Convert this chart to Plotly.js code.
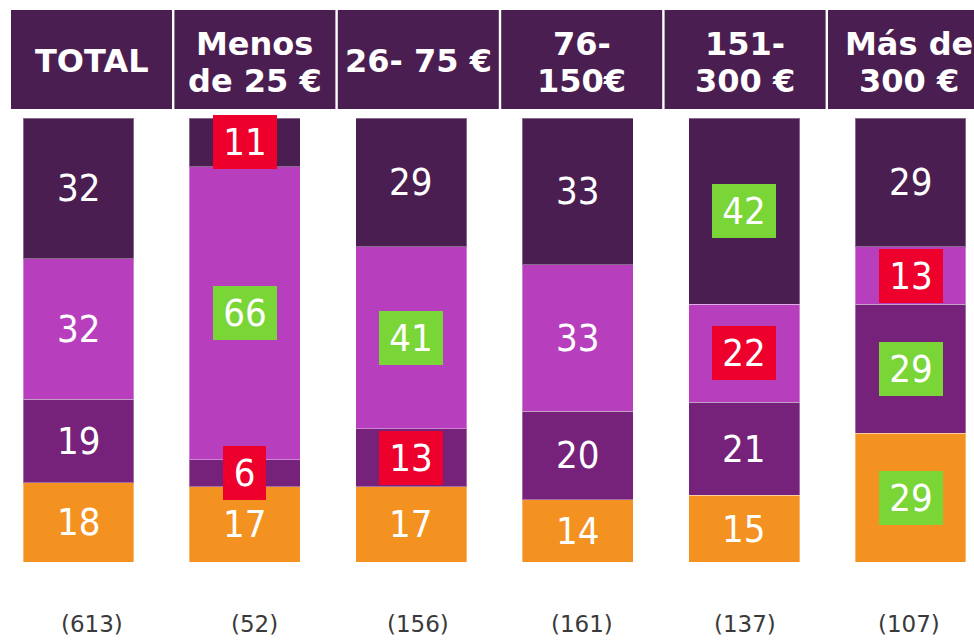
<!DOCTYPE html>
<html>
<head>
<meta charset="utf-8">
<script src="https://cdn.plot.ly/plotly-3.0.1.min.js"></script>
<style>html,body{margin:0;padding:0;background:#fff;}#chart{width:974px;height:640px;}</style>
</head>
<body>
<div id="chart"></div>
<script>
// ---- data ----
const categories = ['TOTAL', 'Menos de 25 €', '26- 75 €', '76-150€', '151-300 €', 'Más de 300 €'];
const headerLabels = ['TOTAL', 'Menos<br>de 25 €', '26- 75 €', '76-<br>150€', '151-<br>300 €', 'Más de<br>300 €'];
const sampleSizes = ['(613)', '(52)', '(156)', '(161)', '(137)', '(107)'];
// stacked from bottom to top
const seriesOrange  = [18, 17, 17, 14, 15, 29];
const seriesPurple  = [19, 6, 13, 20, 21, 29];
const seriesMagenta = [32, 66, 41, 33, 22, 13];
const seriesDark    = [32, 11, 29, 33, 42, 29];
// highlight flags: 'r' = red box, 'g' = green box, '' = none
const hlOrange  = ['', '', '', '', '', 'g'];
const hlPurple  = ['', 'r', 'r', '', '', 'g'];
const hlMagenta = ['', 'g', 'g', '', 'r', 'r'];
const hlDark    = ['', 'r', '', '', 'g', ''];

// ---- styles ----
const W = 974, H = 640;
const colors = ['#F39121', '#76217A', '#B73FBD', '#4B1E51'];
const headerColor = '#4B1E51';
const hlColors = { r: '#EE002C', g: '#7AD537' };
const labelFont = 'DejaVu Sans Condensed, DejaVu Sans, sans-serif';

const series = [seriesOrange, seriesPurple, seriesMagenta, seriesDark];
const flags = [hlOrange, hlPurple, hlMagenta, hlDark];
const xIdx = categories.map((c, i) => i);

const traces = series.map((vals, s) => ({
  type: 'bar',
  x: xIdx,
  y: vals,
  width: 0.667,
  marker: { color: colors[s], line: { color: 'rgba(255,255,255,0.35)', width: 1 } },
  hoverinfo: 'skip'
}));

const totals = xIdx.map(i => series.reduce((a, sr) => a + sr[i], 0));
const annotations = [];
const hStep = 163.4, hW = 161, hX0 = 11, hTop = 10, hBot = 109;

// value labels
xIdx.forEach(i => {
  let cum = 0;
  series.forEach((sr, s) => {
    const v = sr[i];
    const yc = (cum + v / 2) / totals[i] * 100;
    cum += v;
    const f = flags[s][i];
    const txt = String(v);
    const a = {
      x: i, y: yc, xref: 'x', yref: 'y', text: txt, showarrow: false,
      font: { family: labelFont, size: 38, color: '#ffffff' },
      xanchor: 'center', yanchor: 'middle'
    };
    if (f) {
      a.bgcolor = hlColors[f];
      a.borderpad = 0;
      a.borderwidth = 0;
      a.width = 21 * txt.length + 22;
      a.height = 54;
    }
    annotations.push(a);
  });
  // sample size (aligned with header column centres)
  annotations.push({
    x: (hX0 + i * hStep + hW / 2) / W, y: 1 - 624 / H, xref: 'paper', yref: 'paper', text: sampleSizes[i], showarrow: false,
    font: { family: 'DejaVu Sans, sans-serif', size: 23, color: '#3a3a3a' },
    xanchor: 'center', yanchor: 'middle'
  });
});

// header boxes + text
const shapes = [];
headerLabels.forEach((lab, i) => {
  const x0 = hX0 + i * hStep;
  shapes.push({
    type: 'rect', xref: 'paper', yref: 'paper',
    x0: x0 / W, x1: (x0 + hW) / W, y0: 1 - hBot / H, y1: 1 - hTop / H,
    fillcolor: headerColor, line: { width: 0 }, layer: 'above'
  });
  const lines = lab.split('<br>');
  const centers = lines.length === 1 ? [61] : [44, 81];
  lines.forEach((ln, k) => {
    annotations.push({
      x: (x0 + hW / 2) / W, y: 1 - centers[k] / H, xref: 'paper', yref: 'paper',
      text: '<b>' + ln + '</b>', showarrow: false,
      font: { family: 'DejaVu Sans, sans-serif', size: 32, color: '#ffffff' },
      xanchor: 'center', yanchor: 'middle'
    });
  });
});

const pxPerUnitX = 166.4, center0 = 78.5;
const pxPerUnitY = 4.44, zeroY = 562;

const layout = {
  width: W, height: H,
  margin: { l: 0, r: 0, t: 0, b: 0, pad: 0 },
  barmode: 'stack',
  barnorm: 'percent',
  showlegend: false,
  paper_bgcolor: '#ffffff',
  plot_bgcolor: '#ffffff',
  xaxis: {
    range: [-center0 / pxPerUnitX, (W - center0) / pxPerUnitX],
    showgrid: false, zeroline: false, showticklabels: false, showline: false, ticks: ''
  },
  yaxis: {
    range: [-(H - zeroY) / pxPerUnitY, zeroY / pxPerUnitY],
    showgrid: false, zeroline: false, showticklabels: false, showline: false, ticks: ''
  },
  shapes: shapes,
  annotations: annotations
};

Plotly.newPlot('chart', traces, layout, { staticPlot: true, displayModeBar: false });
</script>
</body>
</html>
